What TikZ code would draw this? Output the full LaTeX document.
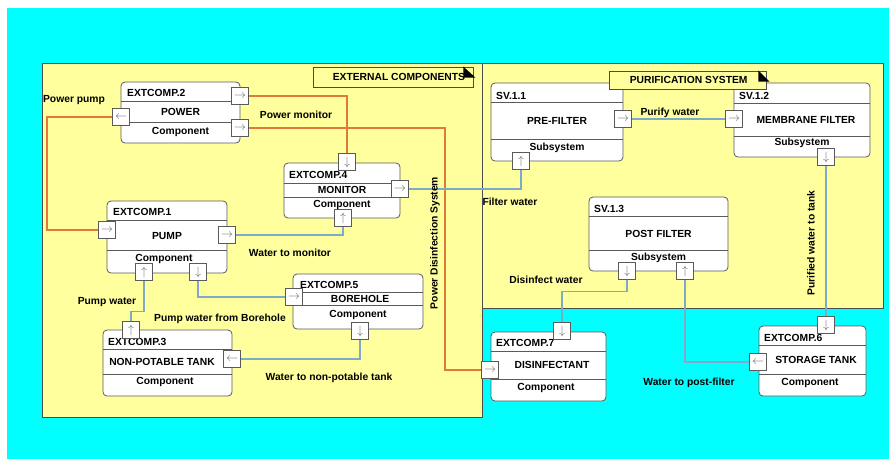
\documentclass[tikz,border=0pt]{standalone}
\usepackage{fontspec}
\setmainfont{Liberation Sans}
\definecolor{bgcyan}{HTML}{00FFFF}
\definecolor{pkgyellow}{HTML}{FFFF9E}
\definecolor{flowblue}{HTML}{7FA9C9}
\definecolor{pwrorange}{HTML}{E0793A}
\definecolor{boxline}{HTML}{5A5A5A}
\tikzset{
  pkg/.style={rectangle, draw=black!70, fill=pkgyellow, line width=0.8pt, inner sep=0pt},
  pkgtab/.style={rectangle, draw=black!70, fill=pkgyellow, line width=0.8pt, inner sep=0pt},
  tabtxt/.style={inner sep=0pt, anchor=west, font=\bfseries\fontsize{10.3}{12}\selectfont},
  comp/.style={rectangle, rounded corners=4pt, draw=boxline, fill=white, line width=0.8pt, inner sep=0pt},
  divider/.style={draw=boxline, line width=0.8pt},
  compid/.style={inner sep=0pt, anchor=west, font=\bfseries\fontsize{10.3}{12}\selectfont},
  comptxt/.style={inner sep=0pt, font=\bfseries\fontsize{10.3}{12}\selectfont},
  port/.style={rectangle, draw=boxline, fill=white, line width=0.7pt, minimum size=17pt, inner sep=0pt, text=black!60, font=\fontsize{13}{13}\selectfont},
  flow/.style={draw=flowblue, line width=1.1pt},
  pwr/.style={draw=pwrorange, line width=1.1pt},
  lbl/.style={inner sep=0pt, font=\bfseries\fontsize{10.3}{12}\selectfont},
}
\begin{document}
\begin{tikzpicture}[x=1pt, y=-1pt]
\useasboundingbox (0,0) rectangle (889,459);
\fill[white] (0,0) rectangle (889,459);
\fill[bgcyan] (7,8) rectangle (889,459);

% packages
\node[pkg, minimum width=440pt, minimum height=354pt] (extpkg) at (262,240) {};
\node[pkg, minimum width=401pt, minimum height=245pt] (purpkg) at (682.5,185.5) {};

% external components
\node[comp, minimum width=119pt, minimum height=61pt] (power) at (180.5,112.5) {};
\draw[divider] (power.west |- 0,101) -- (power.east |- 0,101);
\draw[divider] (power.west |- 0,122) -- (power.east |- 0,122);
\node[compid] (power-id) at (127,93) {EXTCOMP.2};
\node[comptxt] (power-nm) at (180.5,112) {POWER};
\node[comptxt] (power-kd) at (180.5,131.5) {Component};

\node[comp, minimum width=116pt, minimum height=55pt] (monitor) at (342,190.5) {};
\draw[divider] (monitor.west |- 0,183) -- (monitor.east |- 0,183);
\draw[divider] (monitor.west |- 0,197) -- (monitor.east |- 0,197);
\node[compid] (monitor-id) at (289,174.5) {EXTCOMP.4};
\node[comptxt] (monitor-nm) at (342,190) {MONITOR};
\node[comptxt] (monitor-kd) at (342,205) {Component};

\node[comp, minimum width=120pt, minimum height=72pt] (pump) at (167,237) {};
\draw[divider] (pump.west |- 0,220) -- (pump.east |- 0,220);
\draw[divider] (pump.west |- 0,250) -- (pump.east |- 0,250);
\node[compid] (pump-id) at (113,212) {EXTCOMP.1};
\node[comptxt] (pump-nm) at (167,235.5) {PUMP};
\node[comptxt] (pump-kd) at (164,258.5) {Component};

\node[comp, minimum width=130pt, minimum height=55pt] (borehole) at (358,301.5) {};
\draw[divider] (borehole.west |- 0,292) -- (borehole.east |- 0,292);
\draw[divider] (borehole.west |- 0,305) -- (borehole.east |- 0,305);
\node[compid] (borehole-id) at (300,284.5) {EXTCOMP.5};
\node[comptxt] (borehole-nm) at (360,299) {BOREHOLE};
\node[comptxt] (borehole-kd) at (358,315) {Component};

\node[comp, minimum width=129pt, minimum height=66pt] (nptank) at (167.5,363) {};
\draw[divider] (nptank.west |- 0,349) -- (nptank.east |- 0,349);
\draw[divider] (nptank.west |- 0,374) -- (nptank.east |- 0,374);
\node[compid] (nptank-id) at (108,342) {EXTCOMP.3};
\node[comptxt] (nptank-nm) at (162,361.5) {NON-POTABLE TANK};
\node[comptxt] (nptank-kd) at (165,382) {Component};

\node[comp, minimum width=115pt, minimum height=69pt] (disinf) at (548.5,366.5) {};
\draw[divider] (disinf.west |- 0,351) -- (disinf.east |- 0,351);
\draw[divider] (disinf.west |- 0,379) -- (disinf.east |- 0,379);
\node[compid] (disinf-id) at (496,343) {EXTCOMP.7};
\node[comptxt] (disinf-nm) at (552,365) {DISINFECTANT};
\node[comptxt] (disinf-kd) at (546,387.5) {Component};

\node[comp, minimum width=107pt, minimum height=70pt] (storage) at (812.5,361) {};
\draw[divider] (storage.west |- 0,345) -- (storage.east |- 0,345);
\draw[divider] (storage.west |- 0,374) -- (storage.east |- 0,374);
\node[compid] (storage-id) at (764,338) {EXTCOMP.6};
\node[comptxt] (storage-nm) at (816,360) {STORAGE TANK};
\node[comptxt] (storage-kd) at (810,383) {Component};

% purification subsystems
\node[comp, minimum width=132pt, minimum height=78pt] (prefilter) at (557,122) {};
\draw[divider] (prefilter.west |- 0,102) -- (prefilter.east |- 0,102);
\draw[divider] (prefilter.west |- 0,139) -- (prefilter.east |- 0,139);
\node[compid] (prefilter-id) at (496,96) {SV.1.1};
\node[comptxt] (prefilter-nm) at (557,121) {PRE-FILTER};
\node[comptxt] (prefilter-kd) at (557,148) {Subsystem};

\node[comp, minimum width=136pt, minimum height=74pt] (membrane) at (802,120) {};
\draw[divider] (membrane.west |- 0,103) -- (membrane.east |- 0,103);
\draw[divider] (membrane.west |- 0,136) -- (membrane.east |- 0,136);
\node[compid] (membrane-id) at (739,96) {SV.1.2};
\node[comptxt] (membrane-nm) at (806,120) {MEMBRANE FILTER};
\node[comptxt] (membrane-kd) at (802,143) {Subsystem};

\node[comp, minimum width=139pt, minimum height=74pt] (postfilter) at (658.5,234) {};
\draw[divider] (postfilter.west |- 0,216) -- (postfilter.east |- 0,216);
\draw[divider] (postfilter.west |- 0,250) -- (postfilter.east |- 0,250);
\node[compid] (postfilter-id) at (594,209) {SV.1.3};
\node[comptxt] (postfilter-nm) at (658.5,234) {POST FILTER};
\node[comptxt] (postfilter-kd) at (658.5,258) {Subsystem};

% package tabs
\node[pkgtab, minimum width=160pt, minimum height=20pt] (exttab) at (393,77) {};
\node[tabtxt] (exttab-txt) at ([xshift=20pt]exttab.west) {EXTERNAL COMPONENTS};
\fill[black] ([xshift=-10pt]exttab.north east) -- ++(0,11) -- ++(12,0) -- cycle;
\node[pkgtab, minimum width=157pt, minimum height=18pt] (purtab) at (687.5,80) {};
\node[tabtxt] (purtab-txt) at ([xshift=21pt]purtab.west) {PURIFICATION SYSTEM};
\fill[black] ([xshift=-8pt]purtab.north east) -- ++(0,11) -- ++(11,0) -- cycle;

% ports
\node[port] (power-o1) at (240,96) {$\rightarrow$};
\node[port] (power-i) at (121,117) {$\leftarrow$};
\node[port] (power-o2) at (240,128) {$\rightarrow$};
\node[port] (monitor-i) at (347,162) {$\downarrow$};
\node[port] (monitor-o) at (400,189) {$\rightarrow$};
\node[port] (monitor-u) at (343,218) {$\uparrow$};
\node[port] (pump-i) at (107,230) {$\rightarrow$};
\node[port] (pump-o) at (227,235) {$\rightarrow$};
\node[port] (pump-u) at (144,272) {$\uparrow$};
\node[port] (pump-d) at (198,272) {$\downarrow$};
\node[port] (borehole-i) at (294,297) {$\rightarrow$};
\node[port] (borehole-o) at (360,331) {$\downarrow$};
\node[port] (nptank-u) at (131,330) {$\uparrow$};
\node[port] (nptank-i) at (232,359) {$\leftarrow$};
\node[port] (prefilter-o) at (623,119) {$\rightarrow$};
\node[port] (prefilter-u) at (521,161) {$\uparrow$};
\node[port] (membrane-i) at (734,119) {$\rightarrow$};
\node[port] (membrane-o) at (826,157) {$\downarrow$};
\node[port] (postfilter-d) at (627,271) {$\downarrow$};
\node[port] (postfilter-u) at (685,271) {$\uparrow$};
\node[port] (disinf-d) at (562,331) {$\downarrow$};
\node[port] (disinf-i) at (490,370) {$\rightarrow$};
\node[port] (storage-d) at (826,325) {$\downarrow$};
\node[port] (storage-o) at (758,362) {$\leftarrow$};

% connectors
\coordinate (ppx) at (47,0);
\coordinate (pdx) at (445,0);
\draw[pwr] (power-i.west) -- (power-i.west -| ppx) -- (pump-i.west -| ppx) -- (pump-i.west);
\draw[pwr] (power-o1.east) -| (monitor-i.north);
\draw[pwr] (power-o2.east) -- (power-o2.east -| pdx) -- (disinf-i.west -| pdx) -- (disinf-i.west);
\draw[flow] (pump-o.east) -| (monitor-u.south);
\draw[flow] (monitor-o.east) -| (prefilter-u.south);
\draw[flow] (prefilter-o.east) -- (membrane-i.west);
\draw[flow] (membrane-o.south) -- (storage-d.north);
\draw[flow] (storage-o.west) -| (postfilter-u.south);
\draw[flow] (postfilter-d.south) -- ++(0,12) -| (disinf-d.north);
\draw[flow] (pump-d.south) |- (borehole-i.west);
\draw[flow] (pump-u.south) -- ++(0,31) -| (nptank-u.north);
\draw[flow] (borehole-o.south) |- (nptank-i.east);

% connector labels
\node[lbl] (l-powerpump) at (74,100) {Power pump};
\node[lbl] (l-powermon) at (296,115) {Power monitor};
\node[lbl] (l-watermon) at (290,253) {Water to monitor};
\node[lbl] (l-pumpwater) at (107,302) {Pump water};
\node[lbl] (l-borehole) at (220,319) {Pump water from Borehole};
\node[lbl] (l-nptank) at (329,378) {Water to non-potable tank};
\node[lbl, rotate=90] (l-pdsys) at (435,243) {Power Disinfection System};
\node[lbl] (l-filter) at (510,202) {Filter water};
\node[lbl] (l-purify) at (670,113) {Purify water};
\node[lbl] (l-disinfect) at (546,280) {Disinfect water};
\node[lbl] (l-postfilter) at (689,383) {Water to post-filter};
\node[lbl, rotate=90] (l-totank) at (811,243) {Purified water to tank};
\end{tikzpicture}
\end{document}
